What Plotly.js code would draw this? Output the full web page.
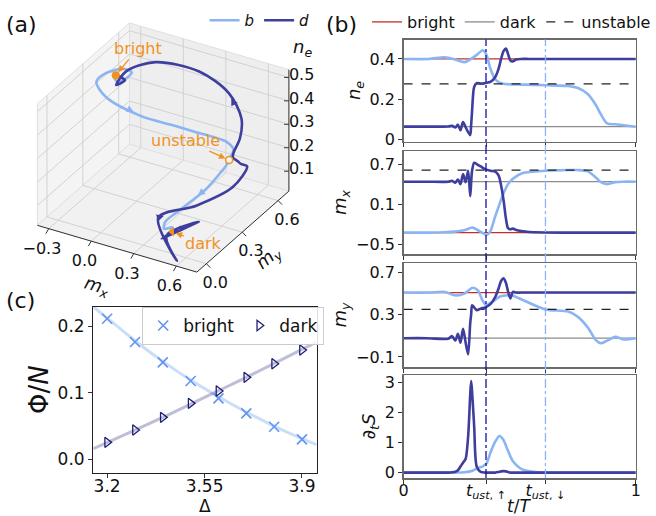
<!DOCTYPE html>
<html><head><meta charset="utf-8">
<script src="https://cdn.plot.ly/plotly-3.0.1.min.js"></script>
<style>html,body{margin:0;padding:0;background:#fff}#chart{width:656px;height:516px}</style>
</head><body><div id="chart"></div>
<script>
// ---- fixed points: bright, dark, unstable ----
const stateNames = ['bright', 'dark', 'unstable'];
const stateNe = [0.40, 0.062, 0.276];
const stateMx = [-0.325, 0.436, 0.61];
const stateMy = [0.51, 0.078, 0.35];
const tUst = [0.355, 0.611];

// ---- trajectory b (light) ----
const tB  = [0, 0.108, 0.178, 0.22, 0.262, 0.297, 0.32, 0.341, 0.357, 0.373, 0.394, 0.413, 0.429, 0.45, 0.471, 0.513, 0.611, 0.709, 0.751, 0.793, 0.828, 0.849, 0.877, 0.912, 0.947, 1.0];
const neB = [0.40, 0.40, 0.408, 0.398, 0.384, 0.405, 0.425, 0.443, 0.42, 0.355, 0.30, 0.282, 0.276, 0.274, 0.273, 0.272, 0.269, 0.265, 0.255, 0.225, 0.17, 0.125, 0.078, 0.074, 0.069, 0.062];
const mxB = [-0.325, -0.325, -0.32, -0.31, -0.29, -0.25, -0.29, -0.33, -0.36, -0.31, -0.09, 0.10, 0.25, 0.40, 0.48, 0.565, 0.60, 0.61, 0.61, 0.59, 0.50, 0.43, 0.40, 0.43, 0.436, 0.436];
const myB = [0.51, 0.51, 0.516, 0.484, 0.50, 0.555, 0.53, 0.43, 0.39, 0.41, 0.44, 0.47, 0.48, 0.485, 0.48, 0.44, 0.35, 0.33, 0.28, 0.18, 0.06, 0.03, 0.055, 0.09, 0.067, 0.078];
const dsB = [0, 0, 0, 0, 0.01, 0.06, 0.15, 0.21, 0.3, 0.64, 1.02, 1.22, 1.1, 0.72, 0.38, 0.1, 0, 0, 0, 0, 0, 0, 0, 0, 0, 0];

// ---- trajectory d (dark) ----
const tD  = [0, 0.10, 0.192, 0.209, 0.223, 0.234, 0.245, 0.256, 0.267, 0.278, 0.287, 0.291, 0.295, 0.304, 0.315, 0.332, 0.353, 0.374, 0.395, 0.409, 0.42, 0.431, 0.441, 0.45, 0.46, 0.471, 0.485, 0.506, 0.541, 0.7, 1.0];
const neD = [0.062, 0.062, 0.063, 0.066, 0.058, 0.072, 0.045, 0.085, 0.06, 0.035, 0.02, 0.07, 0.14, 0.26, 0.279, 0.277, 0.28, 0.285, 0.31, 0.35, 0.40, 0.44, 0.452, 0.424, 0.392, 0.388, 0.397, 0.40, 0.40, 0.40, 0.40];
const mxD = [0.436, 0.436, 0.436, 0.45, 0.42, 0.47, 0.40, 0.55, 0.43, 0.60, 0.22, 0.42, 0.60, 0.72, 0.70, 0.665, 0.62, 0.60, 0.585, 0.53, 0.38, 0.15, -0.12, -0.26, -0.275, -0.265, -0.285, -0.30, -0.315, -0.325, -0.325];
const myD = [0.078, 0.078, 0.072, 0.097, 0.056, 0.12, 0.035, 0.167, 0.04, -0.075, 0.22, 0.30, 0.39, 0.37, 0.342, 0.358, 0.37, 0.40, 0.47, 0.548, 0.62, 0.645, 0.60, 0.52, 0.455, 0.516, 0.51, 0.51, 0.51, 0.51, 0.51];
const dsD = [0, 0, 0, 0.01, 0.03, 0.08, 0.2, 0.33, 0.45, 1.2, 2.6, 3.05, 2.7, 1.55, 0.2, 0.02, 0, 0, 0, 0.02, 0.04, 0.05, 0.04, 0.02, 0, 0, 0, 0, 0, 0, 0];

// ---- 3D axes of panel (a) ----
const box3 = {x:[-0.38, 0.745], y:[-0.08, 0.69], z:[0.015, 0.533]};
const mxTicks = [-0.3, 0.0, 0.3, 0.6];
const mxTickText = ['−0.3', '0.0', '0.3', '0.6'];
const myTicks = [0.0, 0.3, 0.6];
const myTickText = ['0.0', '0.3', '0.6'];
const neTicks = [0.1, 0.2, 0.3, 0.4, 0.5];
const neTickText = ['0.1', '0.2', '0.3', '0.4', '0.5'];

// ---- panel (c) ----
const delta = [3.2, 3.3, 3.4, 3.5, 3.6, 3.7, 3.8, 3.9];
const phiBright = [0.211, 0.176, 0.1455, 0.1175, 0.0915, 0.069, 0.049, 0.03];
const phiDark = [0.0255, 0.044, 0.063, 0.084, 0.1025, 0.123, 0.1435, 0.164];
const fitDelta = [3.15, 3.2, 3.3, 3.4, 3.5, 3.6, 3.7, 3.8, 3.9, 3.9525];
const fitBright = [0.229, 0.212, 0.178, 0.147, 0.119, 0.094, 0.071, 0.05, 0.031, 0.022];
const fitDark = [0.016, 0.025, 0.044, 0.063, 0.083, 0.103, 0.123, 0.144, 0.165, 0.176];

// ---- styles ----
const LIGHT = '#8ab4f2';
const DARK = '#3e3e9e';
const ORANGE = '#f0921e';
const FONT = 'DejaVu Sans, sans-serif';
const FRAME = '#6a6a6a';
const W = 656, H = 516;

// ---- matplotlib-like 3D projection (elev 30, azim -60) onto a hidden 2D axis ----
const EL = 30*Math.PI/180, AZ = -60*Math.PI/180, ASP = [1, 1, 0.75];
const SC = {cx:167.5, cy:147.5, sx:189, sy:187};
function proj(x, y, z) {
  const xn = ((x - box3.x[0])/(box3.x[1]-box3.x[0]) - 0.5)*ASP[0];
  const yn = ((y - box3.y[0])/(box3.y[1]-box3.y[0]) - 0.5)*ASP[1];
  const zn = ((z - box3.z[0])/(box3.z[1]-box3.z[0]) - 0.5)*ASP[2];
  const X = -Math.sin(AZ)*xn + Math.cos(AZ)*yn;
  const Y = -Math.sin(EL)*Math.cos(AZ)*xn - Math.sin(EL)*Math.sin(AZ)*yn + Math.cos(EL)*zn;
  return [SC.cx + SC.sx*X, SC.cy - SC.sy*Y];
}
function projArr(xs, ys, zs) {
  const px = [], py = [];
  xs.forEach((_, i) => { const p = proj(xs[i], ys[i], zs[i]); px.push(p[0]); py.push(p[1]); });
  return [px, py];
}
function segs(list) {
  const px = [], py = [];
  list.forEach(s => { s.forEach(p => { const q = proj(p[0], p[1], p[2]); px.push(q[0]); py.push(q[1]); }); px.push(null); py.push(null); });
  return [px, py];
}

const traces = [];
const A3 = {xaxis:'x6', yaxis:'y6', hoverinfo:'skip', showlegend:false};
const [X0, X1] = box3.x, [Y0, Y1] = box3.y, [Z0, Z1] = box3.z;

// panes
[[[X0,Y0,Z0],[X0,Y1,Z0],[X0,Y1,Z1],[X0,Y0,Z1], '#f4f4f4'],
 [[X0,Y1,Z0],[X1,Y1,Z0],[X1,Y1,Z1],[X0,Y1,Z1], '#eeeeee'],
 [[X0,Y0,Z0],[X1,Y0,Z0],[X1,Y1,Z0],[X0,Y1,Z0], '#f1f1f1']].forEach(pn => {
  const pts = pn.slice(0, 4);
  const [px, py] = segs([pts.concat([pts[0]])]);
  traces.push(Object.assign({type:'scatter', mode:'lines', x:px, y:py, fill:'toself', fillcolor:pn[4],
    line:{color:'#e0e0e0', width:1}}, A3));
});
// grid lines
const gridList = [];
myTicks.forEach(t => { gridList.push([[X0,t,Z0],[X0,t,Z1]]); gridList.push([[X0,t,Z0],[X1,t,Z0]]); });
neTicks.forEach(t => { gridList.push([[X0,Y0,t],[X0,Y1,t]]); gridList.push([[X0,Y1,t],[X1,Y1,t]]); });
mxTicks.forEach(t => { gridList.push([[t,Y1,Z0],[t,Y1,Z1]]); gridList.push([[t,Y0,Z0],[t,Y1,Z0]]); });
{ const [px, py] = segs(gridList);
  traces.push(Object.assign({type:'scatter', mode:'lines', x:px, y:py, line:{color:'#d2d2d2', width:1}}, A3)); }
// axis lines
{ const [px, py] = segs([[[X0,Y0,Z0],[X1,Y0,Z0]], [[X1,Y0,Z0],[X1,Y1,Z0]], [[X1,Y1,Z0],[X1,Y1,Z1]]]);
  traces.push(Object.assign({type:'scatter', mode:'lines', x:px, y:py, line:{color:'#333', width:1}}, A3)); }
// ticks + tick labels
function tickSet(vals, texts, pt, tdx, tdy, ldx, ldy, anchor) {
  const tx = [], ty = [], lx = [], ly = [];
  vals.forEach(v => { const p = pt(v); tx.push(p[0], p[0]+tdx, null); ty.push(p[1], p[1]+tdy, null); lx.push(p[0]+ldx); ly.push(p[1]+ldy); });
  traces.push(Object.assign({type:'scatter', mode:'lines', x:tx, y:ty, line:{color:'#333', width:1}}, A3));
  traces.push(Object.assign({type:'scatter', mode:'text', x:lx, y:ly, text:texts, textposition:anchor,
    textfont:{size:16, family:FONT, color:'#111'}, cliponaxis:false}, A3));
}
tickSet(mxTicks, mxTickText, v => proj(v, Y0, Z0), -3, 5, -7, 21, 'middle center');
tickSet(myTicks, myTickText, v => proj(X1, v, Z0), 4, 4, 9, 20, 'middle center');
tickSet(neTicks, neTickText, v => proj(X1, Y1, v), -5, 0, 0, -1, 'middle right');

// 3D trajectories
const pB = projArr(mxB, myB, neB), pD = projArr(mxD, myD, neD);
traces.push({type:'scatter', mode:'lines', x:pB[0], y:pB[1], xaxis:'x6', yaxis:'y6', name:'<i>b</i>',
  line:{color:LIGHT, width:2.6, shape:'spline', smoothing:0.9}, legend:'legend', hoverinfo:'skip'});
traces.push({type:'scatter', mode:'lines', x:pD[0], y:pD[1], xaxis:'x6', yaxis:'y6', name:'<i>d</i>',
  line:{color:DARK, width:2.6, shape:'spline', smoothing:0.9}, legend:'legend', hoverinfo:'skip'});
// state markers
const pS = projArr(stateMx, stateMy, stateNe);
traces.push(Object.assign({type:'scatter', mode:'markers', x:[pS[0][0]], y:[pS[1][0]], marker:{color:ORANGE, size:8, symbol:'circle'}, cliponaxis:false}, A3));
traces.push(Object.assign({type:'scatter', mode:'markers', x:[pS[0][1]], y:[pS[1][1]], marker:{color:ORANGE, size:8, symbol:'triangle-left'}, cliponaxis:false}, A3));
traces.push(Object.assign({type:'scatter', mode:'markers', x:[pS[0][2]], y:[pS[1][2]], marker:{color:'#fff', size:7, symbol:'circle', line:{color:ORANGE, width:1.6}}, cliponaxis:false}, A3));

// direction arrows along the 3D curves
function dirArrow(p, i, f, col) {
  const x0 = p[0][i], y0 = p[1][i], x1 = p[0][i+1], y1 = p[1][i+1];
  const hx = x0 + f*(x1-x0), hy = y0 + f*(y1-y0);
  const L = Math.hypot(x1-x0, y1-y0) || 1;
  return {xref:'x6', yref:'y6', axref:'x6', ayref:'y6', x:hx, y:hy, ax:hx - 6*(x1-x0)/L, ay:hy - 6*(y1-y0)/L,
    text:'', showarrow:true, arrowhead:2, arrowsize:0.9, arrowwidth:1.6, arrowcolor:col, standoff:0};
}

// panel (b)
const panels = [
  {ax:'2', b:neB, d:neD, s:stateNe},
  {ax:'3', b:mxB, d:mxD, s:stateMx},
  {ax:'4', b:myB, d:myD, s:stateMy},
  {ax:'5', b:dsB, d:dsD, s:null}
];
const tEnds = [tB[0], tB[tB.length-1]];
panels.forEach((p, k) => {
  const xa = 'x'+p.ax, ya = 'y'+p.ax;
  if (p.s) {
    traces.push({type:'scatter', mode:'lines', x:tEnds, y:[p.s[0], p.s[0]], xaxis:xa, yaxis:ya,
      line:{color:'#c0302a', width:1.3}, name:stateNames[0], legend:'legend2', showlegend:k===0, hoverinfo:'skip'});
    traces.push({type:'scatter', mode:'lines', x:tEnds, y:[p.s[1], p.s[1]], xaxis:xa, yaxis:ya,
      line:{color:'#8c8c8c', width:1.3}, name:stateNames[1], legend:'legend2', showlegend:k===0, hoverinfo:'skip'});
  }
  traces.push({type:'scatter', mode:'lines', x:tB, y:p.b, xaxis:xa, yaxis:ya,
    line:{color:LIGHT, width:2.6, shape:'spline', smoothing:0.8}, showlegend:false, hoverinfo:'skip'});
  if (p.s) {
    traces.push({type:'scatter', mode:'lines', x:tEnds, y:[p.s[2], p.s[2]], xaxis:xa, yaxis:ya,
      line:{color:'#222', width:1.3, dash:'dash'}, name:stateNames[2], legend:'legend2', showlegend:k===0, hoverinfo:'skip'});
  }
  traces.push({type:'scatter', mode:'lines', x:tD, y:p.d, xaxis:xa, yaxis:ya,
    line:{color:DARK, width:2.6, shape:'spline', smoothing:0.8}, showlegend:false, hoverinfo:'skip'});
});

// panel (c)
traces.push({type:'scatter', mode:'lines', x:fitDelta, y:fitBright, line:{color:'rgba(138,180,242,0.45)', width:3, shape:'spline'},
  showlegend:false, hoverinfo:'skip'});
traces.push({type:'scatter', mode:'lines', x:fitDelta, y:fitDark, line:{color:'rgba(40,40,120,0.3)', width:3, shape:'spline'},
  showlegend:false, hoverinfo:'skip'});
traces.push({type:'scatter', mode:'markers', x:delta, y:phiBright, name:'bright', legend:'legend3',
  marker:{symbol:'x-thin-open', size:10, color:'#6495ed', line:{color:'#6495ed', width:1.6}}, hoverinfo:'skip'});
traces.push({type:'scatter', mode:'markers', x:delta, y:phiDark, name:'dark', legend:'legend3',
  marker:{symbol:'triangle-right-open', size:9, color:'#1e1e78', line:{color:'#1e1e78', width:1.3}}, hoverinfo:'skip'});

// layout helpers
const dx = (a, b) => [a/W, b/W];
const dy = (top, bot) => [1 - bot/H, 1 - top/H];
const bX = dx(414.3, 652.7);
const yDom = [dy(39.5, 141.5), dy(151, 254), dy(263, 367), dy(375, 478)];

function yax(dom, range, vals, texts, title) {
  return {domain:dom, range:range, tickvals:vals, ticktext:texts, ticks:'outside', ticklen:4,
    tickcolor:'#333', showgrid:false, zeroline:false, showline:true, mirror:true, linecolor:FRAME, linewidth:1.5,
    tickfont:{size:16, family:FONT, color:'#111'},
    title:{text:title, font:{size:18, family:FONT, color:'#111'}, standoff:4}};
}
function xax(anchor, showlabels) {
  return {domain:bX, range:[0,1], anchor:anchor, tickvals:[0, tUst[0], tUst[1], 1],
    ticktext:['0', '<i>t</i><sub><i>ust</i>, ↑</sub>', '<i>t</i><sub><i>ust</i>, ↓</sub>', '1'],
    showticklabels:showlabels, ticks:'outside', ticklen:4, tickcolor:'#333', ticklabelstandoff:-7,
    showgrid:false, zeroline:false, showline:true, mirror:true, linecolor:FRAME, linewidth:1.5,
    tickfont:{size:16, family:FONT, color:'#111'}};
}
const hidden = {showgrid:false, zeroline:false, showline:false, showticklabels:false, ticks:''};

const ann = (x, y, text, size, extra) => Object.assign({xref:'paper', yref:'paper', x:x/W, y:1-y/H, text:text,
  showarrow:false, font:{size:size, family:FONT, color:'#111'}}, extra || {});
const stateAnn = (i, text, ax, ay) => ({xref:'x6', yref:'y6', x:pS[0][i], y:pS[1][i], text:text, showarrow:true,
  ax:ax, ay:ay, arrowcolor:ORANGE, arrowhead:2, arrowsize:1, arrowwidth:1.3, standoff:4,
  font:{color:ORANGE, size:16, family:FONT}});

const layout = {
  width:W, height:H, margin:{l:0, r:0, t:0, b:0}, paper_bgcolor:'#fff', plot_bgcolor:'rgba(0,0,0,0)',
  font:{family:FONT, color:'#111'},
  xaxis6:Object.assign({domain:[0, 328/W], range:[0, 328], anchor:'y6'}, hidden),
  yaxis6:Object.assign({domain:[1-300/H, 1], range:[300, 0], anchor:'x6'}, hidden),
  // panel (c)
  xaxis:{domain:dx(95.7, 325), range:[3.15, 3.9525], anchor:'y', tickvals:[3.2, 3.55, 3.9], ticktext:['3.2','3.55','3.9'],
    ticks:'outside', ticklen:4, tickcolor:'#333', ticklabelstandoff:-6, showgrid:false, zeroline:false, showline:true, mirror:true,
    linecolor:'#222', linewidth:1.2, tickfont:{size:17, family:FONT, color:'#111'}},
  yaxis:{domain:dy(306.7, 472.7), range:[-0.02, 0.229], anchor:'x', tickvals:[0, 0.1, 0.2], ticktext:['0.0','0.1','0.2'],
    ticks:'outside', ticklen:4, tickcolor:'#333', showgrid:false, zeroline:false, showline:true, mirror:true,
    linecolor:'#222', linewidth:1.2, tickfont:{size:17, family:FONT, color:'#111'},
    title:{text:'Φ/<i>N</i>', font:{size:26, family:FONT, color:'#111'}, standoff:1}},
  // panel (b)
  xaxis2:xax('y2', false), xaxis3:xax('y3', false), xaxis4:xax('y4', false), xaxis5:xax('y5', true),
  yaxis2:Object.assign(yax(yDom[0], [-0.012, 0.497], [0, 0.2, 0.4], ['0','0.2','0.4'], '<i>n<sub>e</sub></i>'), {anchor:'x2'}),
  yaxis3:Object.assign(yax(yDom[1], [-0.645, 0.895], [-0.5, 0.1, 0.7], ['−0.5','0.1','0.7'], '<i>m<sub>x</sub></i>'), {anchor:'x3'}),
  yaxis4:Object.assign(yax(yDom[2], [-0.195, 0.79], [-0.1, 0.3, 0.7], ['−0.1','0.3','0.7'], '<i>m<sub>y</sub></i>'), {anchor:'x4'}),
  yaxis5:Object.assign(yax(yDom[3], [-0.18, 3.25], [0, 1, 2, 3], ['0','1','2','3'], '∂<sub><i>t</i></sub><i>S</i>'), {anchor:'x5'}),
  shapes:[
    {type:'line', xref:'x5', yref:'paper', x0:tUst[0], x1:tUst[0], y0:yDom[3][0], y1:yDom[0][1],
      line:{color:'#1010a8', width:1.3, dash:'dashdot'}, layer:'above'},
    {type:'line', xref:'x5', yref:'paper', x0:tUst[1], x1:tUst[1], y0:yDom[3][0], y1:yDom[0][1],
      line:{color:LIGHT, width:1.3, dash:'dashdot'}, layer:'above'}
  ],
  legend:{x:210/W, y:1-4/H, xanchor:'left', yanchor:'top', orientation:'h', bgcolor:'rgba(0,0,0,0)',
    font:{size:15, family:FONT, color:'#111'}, itemwidth:30, tracegroupgap:0},
  legend2:{x:377/W, y:1-5/H, xanchor:'left', yanchor:'top', orientation:'h', bgcolor:'rgba(0,0,0,0)',
    font:{size:16, family:FONT, color:'#111'}, itemwidth:30},
  legend3:{x:146/W, y:1-307/H, xanchor:'left', yanchor:'top', orientation:'h', bgcolor:'rgba(255,255,255,0.85)',
    bordercolor:'#cccccc', borderwidth:1, font:{size:17, family:FONT, color:'#111'}, itemwidth:30},
  annotations:[
    ann(4, 25, '(a)', 22, {xanchor:'left', yanchor:'middle'}),
    ann(333, 25, '(b)', 22, {xanchor:'left', yanchor:'middle'}),
    ann(4, 300, '(c)', 22, {xanchor:'left', yanchor:'middle'}),
    ann(533, 506, '<i>t</i>/<i>T</i>', 17, {xanchor:'center', yanchor:'middle'}),
    ann(210, 506, 'Δ', 17, {xanchor:'center', yanchor:'middle'}),
    ann(311, 48, '<i>n<sub>e</sub></i>', 18, {xanchor:'center', yanchor:'middle'}),
    ann(100, 287, '<i>m<sub>x</sub></i>', 18, {xanchor:'center', yanchor:'middle', textangle:16}),
    ann(276, 258, '<i>m<sub>y</sub></i>', 18, {xanchor:'center', yanchor:'middle', textangle:-40}),
    stateAnn(0, 'bright', 22, -27),
    stateAnn(2, 'unstable', -44, -20),
    stateAnn(1, 'dark', 32, 12),
    dirArrow(pB, 9, 0.8, LIGHT),
    dirArrow(pB, 19, 0.3, LIGHT),
    dirArrow(pD, 19, 0.8, DARK),
    dirArrow(pD, 10, 0.15, DARK)
  ]
};

Plotly.newPlot('chart', traces, layout, {staticPlot:true, displayModeBar:false});
</script></body></html>
